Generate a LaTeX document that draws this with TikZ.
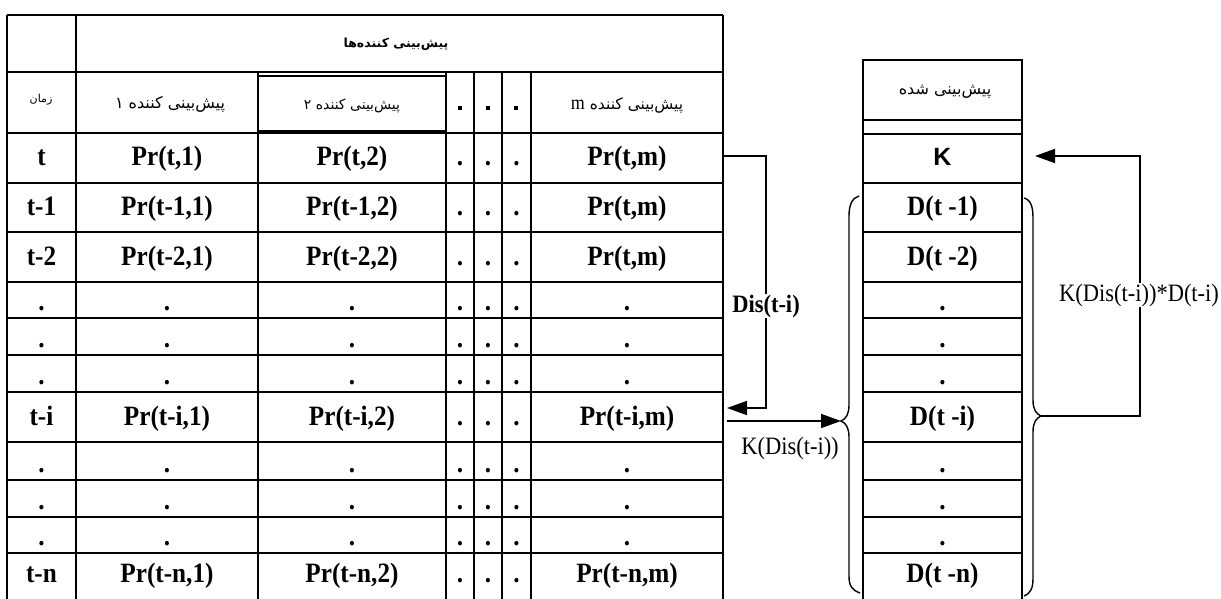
\documentclass[tikz,border=0pt]{standalone}
\usepackage{fontspec}
\setmainfont{Liberation Serif}
\newfontfamily\tnr[FakeStretch=0.9]{Liberation Serif}
\newfontfamily\fa[Script=Arabic]{DejaVu Sans}
\newfontfamily\arl{Liberation Sans}
\TeXXeTstate=1
\usetikzlibrary{arrows.meta}
\begin{document}
\begin{tikzpicture}[x=1pt,y=-1pt,
  gridline/.style={line width=1.4pt},
  hdrbox/.style={line width=2.4pt},
  val/.style={font=\tnr\bfseries\fontsize{28}{28}\selectfont, anchor=base, inner sep=0pt},
  fatext/.style={font=\fa, inner sep=0pt},
  sq/.style={fill=black, minimum size=4pt, inner sep=0pt},
  conn/.style={line width=1.6pt, -{Triangle[length=20pt,width=14pt]}},
  lab/.style={font=\tnr\fontsize{25}{25}\selectfont, inner sep=1pt}
]
\useasboundingbox (0,0) rectangle (1221,599);
% ---------- left table grid ----------
\foreach \y in {15,72,133,183,232,282,318,355,392,442,480,517,553}
  \draw[gridline] (7,\y) -- (723,\y);
\draw[gridline] (7,15) -- (7,599);
\draw[gridline] (76,15) -- (76,599);
\draw[gridline] (723,15) -- (723,599);
\foreach \x in {258,446,474,502,531}
  \draw[gridline] (\x,72) -- (\x,599);
\draw[hdrbox] (76,72) rectangle (258,133);
\draw[hdrbox] (258,76) rectangle (446,131);
\draw[hdrbox] (531,72) rectangle (723,133);
% ---------- header texts ----------
\node[fatext] (hpred) at (396,44) {\fontsize{12.5}{12.5}\selectfont\bfseries\beginR پیش‌بینی کننده‌ها\endR};
\node[fatext] (htime) at (41,100) {\fontsize{11}{11}\selectfont\beginR زمان\endR};
\node[fatext] (hp1) at (170,104) {\fontsize{16}{16}\selectfont\beginR پیش‌بینی کننده ۱\endR};
\node[fatext] (hp2) at (352,106) {\fontsize{14}{14}\selectfont\beginR پیش‌بینی کننده ۲\endR};
\node[fatext] (hpm) at (627,106) {\fontsize{15.5}{15.5}\selectfont\beginR پیش‌بینی کننده {\tnr\fontsize{20}{20}\selectfont m}\endR};
\node[sq] (hd1) at (460,108) {};
\node[sq] (hd2) at (488,108) {};
\node[sq] (hd3) at (516,108) {};
% ---------- data rows ----------
\foreach \b/\ti/\ca/\cb/\cm/\n in {
  166/t/{Pr(t,1)}/{Pr(t,2)}/{Pr(t,m)}/1,
  215/t-1/{Pr(t-1,1)}/{Pr(t-1,2)}/{Pr(t,m)}/2,
  265/t-2/{Pr(t-2,1)}/{Pr(t-2,2)}/{Pr(t,m)}/3,
  310/././././4,
  347/././././5,
  384/././././6,
  425/t-i/{Pr(t-i,1)}/{Pr(t-i,2)}/{Pr(t-i,m)}/7,
  472/././././8,
  509/././././9,
  545/././././10,
  582/t-n/{Pr(t-n,1)}/{Pr(t-n,2)}/{Pr(t-n,m)}/11}{
  \node[val] (tm\n) at (41.5,\b) {\ti};
  \node[val] (ca\n) at (167,\b) {\ca};
  \node[val] (cb\n) at (352,\b) {\cb};
  \node[val] (da\n) at (460,\b) {.};
  \node[val] (db\n) at (488,\b) {.};
  \node[val] (dc\n) at (516.5,\b) {.};
  \node[val] (cm\n) at (627,\b) {\cm};
}
% ---------- right table ----------
\foreach \y in {134,183,232,282,318,355,392,442,480,517,553}
  \draw[gridline] (863,\y) -- (1022,\y);
\draw[gridline] (863,60) -- (863,599);
\draw[gridline] (1022,60) -- (1022,599);
\draw[hdrbox] (863,60) rectangle (1022,120);
\node[fatext] (hres) at (945,92) {\fontsize{16}{16}\selectfont\beginR پیش‌بینی شده\endR};
\node[font=\arl\bfseries\fontsize{25}{25}\selectfont, anchor=base, inner sep=0pt] (kk) at (942.5,166) {K};
\foreach \b/\tx/\n in {215/{D(t -1)}/2, 265/{D(t -2)}/3, 310/./4, 347/./5, 384/./6,
  425/{D(t -i)}/7, 472/./8, 509/./9, 545/./10, 582/{D(t -n)}/11}{
  \node[val] (dd\n) at (942.5,\b) {\tx};
}
% ---------- braces ----------
\draw[line width=1.4pt] (859,196) .. controls (852,198) and (849,205) .. (849,216)
  -- (849,405) .. controls (849,414) and (846,419) .. (841,421)
  .. controls (846,423) and (849,428) .. (849,437)
  -- (849,576) .. controls (849,586) and (852,590) .. (860,593);
\draw[line width=1.4pt] (1024,198) .. controls (1031,200) and (1033,207) .. (1033,218)
  -- (1033,400) .. controls (1033,409) and (1036,414) .. (1041,416)
  .. controls (1036,418) and (1033,423) .. (1033,432)
  -- (1033,578) .. controls (1033,588) and (1031,593) .. (1024,596);
% ---------- connectors ----------
\coordinate (cmR) at (723,156);
\coordinate (tiR) at (727,408);
\coordinate (kS) at (727,421);
\coordinate (lbt) at (841,421);
\coordinate (rbt) at (1041,416);
\coordinate (kR) at (1035,156);
\draw[conn] (cmR) -- (766,156) -- (766,408) -- (tiR);
\node[lab, font=\tnr\bfseries\fontsize{25}{25}\selectfont, fill=white] (dis) at (766,306) {Dis(t-i)};
\draw[conn] (kS) -- (lbt);
\node[lab] (kdis) at (790,448) {K(Dis(t-i))};
\draw[conn] (rbt) -- (1140,416) -- (1140,156) -- (kR);
\node[lab, fill=white] (kdd) at (1139,295) {K(Dis(t-i))*D(t-i)};
\end{tikzpicture}
\end{document}
